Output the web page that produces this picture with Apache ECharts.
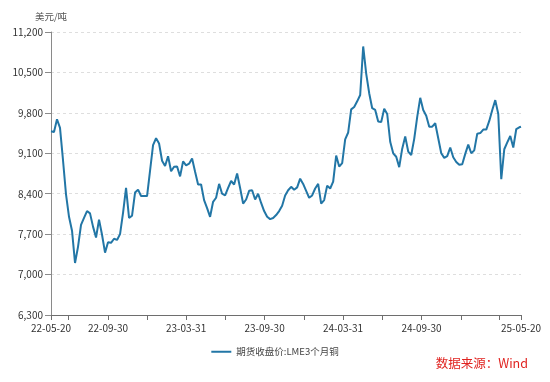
<!DOCTYPE html>
<html>
<head>
<meta charset="utf-8">
<script src="https://cdn.jsdelivr.net/npm/echarts@6/dist/echarts.min.js"></script>
<style>
html,body{margin:0;padding:0;background:#fff;}
#chart{width:550px;height:382px;}
</style>
</head>
<body>
<div id="chart"></div>
<script>
// ---- data (weekly readings, USD/ton) ----
const startDate = '2022-05-20';
const endDate = '2025-05-20';
const seriesName = '期货收盘价:LME3个月铜';
const weeklyClose = [
  9480, 9470, 9690, 9540, 8980, 8390, 8000, 7760, 7200, 7480,
  7860, 7980, 8100, 8060, 7830, 7640, 7950, 7690, 7380, 7560,
  7550, 7620, 7600, 7700, 8070, 8500, 7980, 8020, 8420, 8470,
  8360, 8360, 8360, 8800, 9240, 9360, 9270, 8970, 8880, 9050,
  8790, 8866, 8870, 8700, 8960, 8890, 8920, 9010, 8780, 8560,
  8560, 8290, 8150, 8000, 8260, 8330, 8570, 8400, 8370, 8500,
  8620, 8560, 8750, 8500, 8230, 8300, 8450, 8460, 8300, 8400,
  8240, 8100, 8000, 7960, 7980, 8030, 8100, 8190, 8370, 8460,
  8520, 8470, 8510, 8660, 8570, 8450, 8330, 8370, 8490, 8570,
  8230, 8290, 8540, 8490, 8610, 9060, 8870, 8930, 9340, 9460,
  9860, 9900, 10000, 10110, 10950, 10480, 10140, 9880, 9850, 9650,
  9640, 9870, 9780, 9300, 9100, 9040, 8860, 9180, 9390, 9130,
  9070, 9350, 9730, 10060, 9850, 9750, 9560, 9560, 9620, 9360,
  9100, 9020, 9050, 9200, 9030, 8950, 8900, 8910, 9090, 9250,
  9100, 9150, 9440, 9450, 9510, 9510, 9660, 9850, 10020, 9780,
  8650, 9170, 9290, 9400, 9200, 9520, 9550
];
const lastClose = 9560;
const yMin = 6300, yMax = 11200, yStep = 700;
const tickDates = ['2022-05-20','2022-06-30','2022-09-30','2022-12-31','2023-03-31','2023-06-30',
  '2023-09-30','2023-12-31','2024-03-31','2024-06-30','2024-09-30','2024-12-31','2025-03-31','2025-05-20'];
const labelDates = ['2022-05-20','2022-09-30','2023-03-31','2023-09-30','2024-03-31','2024-09-30','2025-05-20'];

// ---- helpers ----
function toUTC(s){ const p = s.split('-').map(Number); return Date.UTC(p[0], p[1]-1, p[2]); }
function pad(n){ return (n<10?'0':'')+n; }
function fmtDate(v){ const d = new Date(v); return String(d.getUTCFullYear()).slice(2)+'-'+pad(d.getUTCMonth()+1)+'-'+pad(d.getUTCDate()); }
const DAY = 86400000;
const t0 = toUTC(startDate), t1 = toUTC(endDate);
const points = weeklyClose.map((v,i)=>[t0 + i*7*DAY, v]);
points.push([t1, lastClose]);

const font = '"Noto Sans CJK SC", "Noto Sans", sans-serif';
const chart = echarts.init(document.getElementById('chart'), null, {renderer:'canvas'});
chart.setOption({
  animation:false,
  backgroundColor:'#fff',
  textStyle:{fontFamily:font},
  grid:{left:51, right:29, top:32, bottom:67, containLabel:false},
  xAxis:{
    type:'value', min:t0, max:t1, scale:true,
    axisLine:{show:true, lineStyle:{color:'#6e6e6e', width:1}},
    axisTick:{show:true, length:5, lineStyle:{color:'#6e6e6e'}, customValues: tickDates.map(toUTC)},
    axisLabel:{show:true, color:'#333', fontSize:10, margin:8, fontFamily:font,
      customValues: labelDates.map(toUTC), formatter: v=>fmtDate(v), hideOverlap:false, showMinLabel:true, showMaxLabel:true},
    splitLine:{show:false}
  },
  yAxis:{
    type:'value', min:yMin, max:yMax, interval:yStep,
    name:'美元/吨', nameLocation:'end', nameGap:11,
    nameTextStyle:{color:'#555', fontSize:9.5, fontFamily:font, align:'center'},
    axisLine:{show:true, lineStyle:{color:'#8a8a8a', width:1}},
    axisTick:{show:true, length:6, lineStyle:{color:'#8a8a8a'}},
    axisLabel:{color:'#333', fontSize:10, margin:8, fontFamily:font,
      formatter: v=>v.toLocaleString('en-US')},
    splitLine:{show:true, lineStyle:{color:'#dedede', type:[3,3], width:1}}
  },
  legend:{
    show:true, left:'center', top:342, icon:'rect', itemWidth:20, itemHeight:2, itemGap:10,
    textStyle:{color:'#444', fontSize:9.5, fontFamily:font},
    data:[seriesName]
  },
  graphic:[{
    type:'text', right:22, top:357,
    style:{text:'数据来源：Wind', fill:'#e0221f', fontSize:12.5, fontFamily:font}
  }],
  series:[{
    name:seriesName, type:'line', data:points,
    symbol:'none', showSymbol:false,
    lineStyle:{color:'#2276a6', width:2},
    itemStyle:{color:'#2276a6'}
  }]
});
</script>
</body>
</html>
